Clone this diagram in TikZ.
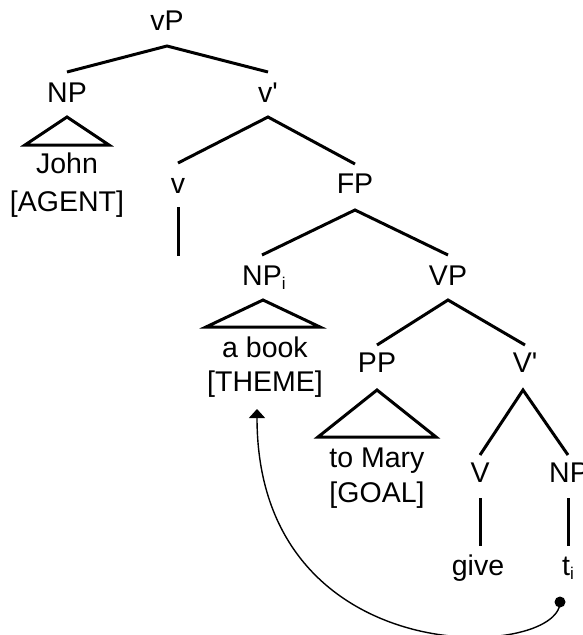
\documentclass[tikz,border=0pt]{standalone}
\usepackage{fontspec}
\setmainfont{Liberation Sans}[Ligatures=TeXOff]
\usetikzlibrary{calc,arrows.meta}
\newcommand\lsub[1]{\raisebox{-4pt}{\fontsize{17}{17}\selectfont #1}}
\begin{document}
\begin{tikzpicture}[x=1pt,y=-1pt,
  lab/.style={anchor=base,inner sep=0pt,font=\fontsize{28.5}{34}\selectfont},
  br/.style={line width=3pt},
  mv/.style={line width=1.4pt}]
\useasboundingbox (0,0) rectangle (583,635);
\clip (0,0) rectangle (583,635);
% labels
\node[lab] (vP) at (167,30) {vP};
\node[lab] (np1) at (67,102) {NP};
\node[lab] (vbar) at (268,102) {v'};
\node[lab] (john) at (67,173) {John};
\node[lab] (agent) at (67,211) {[AGENT]};
\node[lab] (v) at (178,193) {v};
\coordinate (vend) at (178,256);
\node[lab] (FP) at (355,193) {FP};
\node[lab] (npi) at (262,285) {NP\rlap{\lsub{i}}};
\node[lab] (VP) at (448,285) {VP};
\node[lab] (abook) at (265,357) {a book};
\node[lab] (theme) at (265,391) {[THEME]};
\node[lab] (PP) at (377,372) {PP};
\node[lab] (Vbar) at (525,372) {V'};
\node[lab] (tomary) at (377,467) {to Mary};
\node[lab] (goal) at (377,502) {[GOAL]};
\node[lab] (V) at (480,482) {V};
\node[lab] (np2) at (569,482) {NP};
\node[lab] (give) at (478,575) {give};
\node[lab] (ti) at (568,575) {t\lsub{i}};
\coordinate (dot) at (560,602);
% branches
\draw[br] ($(np1.base)+(0,-30)$) -- ($(vP.base)+(0,16)$) -- ($(vbar.base)+(0,-30)$);
\draw[br] ($(v.base)+(0,-30)$) -- ($(vbar.base)+(0,15)$) -- ($(FP.base)+(0,-29)$);
\draw[br] ($(npi.base)+(0,-30)$) -- ($(FP.base)+(0,17)$) -- ($(VP.base)+(0,-30)$);
\draw[br] ($(PP.base)+(0,-27)$) -- ($(VP.base)+(0,15)$) -- ($(Vbar.base)+(0,-27)$);
\draw[br] ($(V.base)+(0,-27)$) -- ($(Vbar.base)+(-2,18)$) -- ($(np2.base)+(-1,-27)$);
\draw[br] ($(v.base)+(0,14)$) -- (vend);
\draw[br] ($(V.base)+(0,16)$) -- ($(V.base|-give.base)+(0,-29)$);
\draw[br] ($(np2.base)+(-1,16)$) -- ($(np2.base|-ti.base)+(-1,-29)$);
% triangles
\draw[br] ($(np1.base)+(0,15)$) -- ++(-42,28) -- ++(84,0) -- cycle;
\draw[br] ($(npi.base)+(1,15)$) -- ++(-57,27) -- ++(114,0) -- cycle;
\draw[br] ($(PP.base)+(0,18)$) -- ++(-59,47) -- ++(118,0) -- cycle;
% movement
\fill (dot) circle (5.5);
\draw[mv,-{Triangle[length=9pt,width=16pt]}] (dot) .. controls (560,660) and (257,675) .. ($(theme.base)+(-8,18)$);
\end{tikzpicture}
\end{document}
